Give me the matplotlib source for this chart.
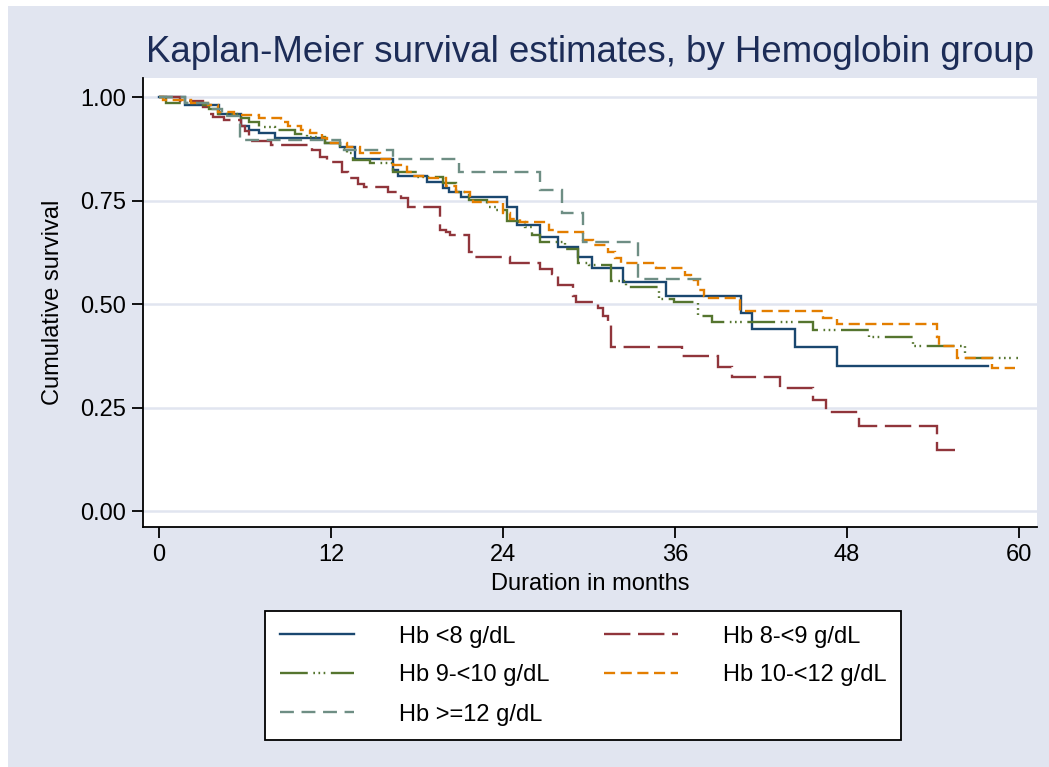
import matplotlib
matplotlib.use("Agg")
import matplotlib.pyplot as plt
from matplotlib.patches import Rectangle

plt.rcParams['font.family'] = ['Liberation Sans', 'DejaVu Sans']
plt.rcParams['lines.scale_dashes'] = False

# ---- data ----
title = "Kaplan-Meier survival estimates, by Hemoglobin group"
xlabel = "Duration in months"
ylabel = "Cumulative survival"
xticks = [0, 12, 24, 36, 48, 60]
yticks = [0.0, 0.25, 0.50, 0.75, 1.00]
ytick_labels = ["0.00", "0.25", "0.50", "0.75", "1.00"]

labels = ["Hb <8 g/dL", "Hb 8-<9 g/dL", "Hb 9-<10 g/dL", "Hb 10-<12 g/dL", "Hb >=12 g/dL"]

t_lt8 = [0, 1.8, 4.2, 5.7, 6.3, 7.0, 8.1, 11.6, 12.6, 13.7, 16.3, 16.7, 18.7, 19.8, 20.2,
         21.1, 24.3, 25.0, 26.6, 27.8, 29.2, 30.2, 32.4, 35.4, 40.6, 41.4, 44.4, 47.3, 57.8]
s_lt8 = [1.0, 0.98, 0.96, 0.93, 0.92, 0.913, 0.90, 0.889, 0.88, 0.85, 0.824, 0.81, 0.795, 0.78, 0.77,
         0.758, 0.734, 0.69, 0.662, 0.638, 0.614, 0.587, 0.553, 0.519, 0.478, 0.44, 0.397, 0.35, 0.35]

t_8_9 = [0, 1.5, 3.1, 3.5, 3.8, 4.5, 5.7, 6.0, 6.3, 7.8, 10.7, 11.2, 11.7, 12.8, 13.2, 13.9,
         14.3, 16.0, 16.9, 17.4, 19.6, 20.0, 20.3, 21.6, 22.0, 24.5, 26.6, 27.4, 27.8, 28.9,
         29.1, 30.6, 31.0, 31.3, 31.5, 36.5, 39.0, 40.0, 43.3, 45.6, 46.5, 48.8, 54.3, 55.5]
s_8_9 = [1.0, 0.99, 0.975, 0.96, 0.952, 0.945, 0.93, 0.918, 0.895, 0.884, 0.872, 0.855, 0.843,
         0.82, 0.804, 0.79, 0.783, 0.77, 0.755, 0.734, 0.68, 0.674, 0.667, 0.625, 0.614, 0.60,
         0.585, 0.573, 0.546, 0.52, 0.505, 0.49, 0.47, 0.45, 0.397, 0.374, 0.348, 0.324, 0.297,
         0.268, 0.239, 0.205, 0.147, 0.147]

t_9_10 = [0, 0.5, 2.9, 3.5, 4.1, 5.7, 6.3, 7.0, 8.1, 9.5, 10.3, 11.6, 12.6, 13.1, 13.5, 14.7,
          16.3, 18.0, 19.8, 20.7, 21.6, 22.9, 23.5, 24.3, 25.1, 25.5, 26.0, 26.6, 28.3, 29.2,
          30.0, 31.5, 32.6, 34.9, 35.9, 37.6, 38.6, 45.6, 49.5, 52.6, 56.2, 59.9]
s_9_10 = [1.0, 0.985, 0.98, 0.97, 0.96, 0.95, 0.94, 0.928, 0.92, 0.91, 0.903, 0.89, 0.875,
          0.865, 0.848, 0.84, 0.82, 0.807, 0.792, 0.77, 0.751, 0.735, 0.727, 0.70, 0.698,
          0.685, 0.667, 0.65, 0.632, 0.60, 0.594, 0.555, 0.541, 0.512, 0.505, 0.47, 0.456,
          0.437, 0.42, 0.398, 0.37, 0.37]

t_10_12 = [0, 0.3, 2.2, 3.4, 4.1, 5.2, 7.0, 8.5, 9.0, 9.9, 10.5, 11.4, 11.7, 13.1, 14.0, 15.4,
           16.3, 17.3, 17.7, 18.4, 20.0, 20.7, 21.7, 21.9, 24.0, 24.5, 25.2, 27.2, 27.6, 29.6,
           30.3, 31.3, 31.8, 32.2, 34.7, 36.7, 37.1, 37.6, 38.0, 38.4, 40.5, 46.3, 47.3, 54.3,
           54.4, 55.7, 58.1, 59.7]
s_10_12 = [1.0, 0.993, 0.985, 0.98, 0.965, 0.957, 0.95, 0.94, 0.93, 0.92, 0.913, 0.90, 0.89,
           0.88, 0.865, 0.85, 0.835, 0.82, 0.81, 0.804, 0.785, 0.77, 0.757, 0.747, 0.72, 0.705,
           0.697, 0.68, 0.674, 0.655, 0.643, 0.625, 0.612, 0.60, 0.587, 0.57, 0.558, 0.535,
           0.52, 0.515, 0.483, 0.466, 0.452, 0.42, 0.398, 0.37, 0.345, 0.345]

t_ge12 = [0, 1.8, 3.4, 4.4, 5.65, 12.6, 16.3, 20.9, 26.6, 28.1, 29.6, 33.4, 38.3]
s_ge12 = [1.0, 0.985, 0.97, 0.955, 0.896, 0.872, 0.85, 0.82, 0.775, 0.72, 0.65, 0.56, 0.56]

series_t = [t_lt8, t_8_9, t_9_10, t_10_12, t_ge12]
series_s = [s_lt8, s_8_9, s_9_10, s_10_12, s_ge12]

# ---- styles ----
colors = ["#1A476F", "#90353B", "#55752F", "#E37E00", "#6E8E84"]
styles = ["-", (0, (19, 5.5)), (0, (20, 4, 1.2, 2.5, 1.2, 2.5, 1.2, 4)),
          (0, (8, 4)), (0, (10, 5.5))]
bg = "#E1E5F0"

fig = plt.figure(figsize=(10.49, 7.67), dpi=100, facecolor="white")
fig.patches.append(Rectangle((8 / 1049, 0), 1 - 8 / 1049, 1 - 6 / 767,
                             transform=fig.transFigure, facecolor=bg,
                             edgecolor="none", zorder=-10))

ax = fig.add_axes([143 / 1049, 1 - 527 / 767, (1037 - 143) / 1049, (527 - 78) / 767])
ax.set_facecolor("white")

lines = []
for t, s, c, ls, lab in zip(series_t, series_s, colors, styles, labels):
    ln, = ax.step(t, s, where="post", color=c, linestyle=ls, lw=1.7, label=lab,
                  solid_joinstyle="miter", dash_joinstyle="miter")
    lines.append(ln)

ax.set_xlim(-1.116, 61.25)
ax.set_ylim(-0.0386, 1.046)
ax.set_xticks(xticks)
ax.set_yticks(yticks)
ax.set_yticklabels(ytick_labels)
ax.grid(axis="y", color="#E1E5F0", lw=1.8, zorder=0)
ax.set_axisbelow(True)
for side in ["top", "right"]:
    ax.spines[side].set_visible(False)
for side in ["left", "bottom"]:
    ax.spines[side].set_linewidth(1.3)
    ax.spines[side].set_color("black")
ax.tick_params(axis="both", length=8, width=1.3, labelsize=17, pad=4, color="black")

ax.set_xlabel(xlabel, fontsize=17, labelpad=5)
ax.set_ylabel(ylabel, fontsize=17, labelpad=12)

fig.text(0.5 * (147 + 1033) / 1049, 1 - 53 / 767, title, ha="center", va="center",
         fontsize=26.4, color="#1C2C57")

order = [0, 2, 4, 1, 3]
leg = fig.legend([lines[i] for i in order], [labels[i] for i in order],
                 ncol=2, loc="center", bbox_to_anchor=(583 / 1049, 1 - 675.5 / 767),
                 fontsize=17, frameon=True, fancybox=False, edgecolor="black",
                 framealpha=1.0, handlelength=3.15, handletextpad=1.9, columnspacing=2.3,
                 labelspacing=0.72, borderpad=0.6)
leg.get_frame().set_linewidth(1.3)
leg.get_frame().set_facecolor("white")

fig.savefig("out.png", dpi=100, facecolor=fig.get_facecolor())
